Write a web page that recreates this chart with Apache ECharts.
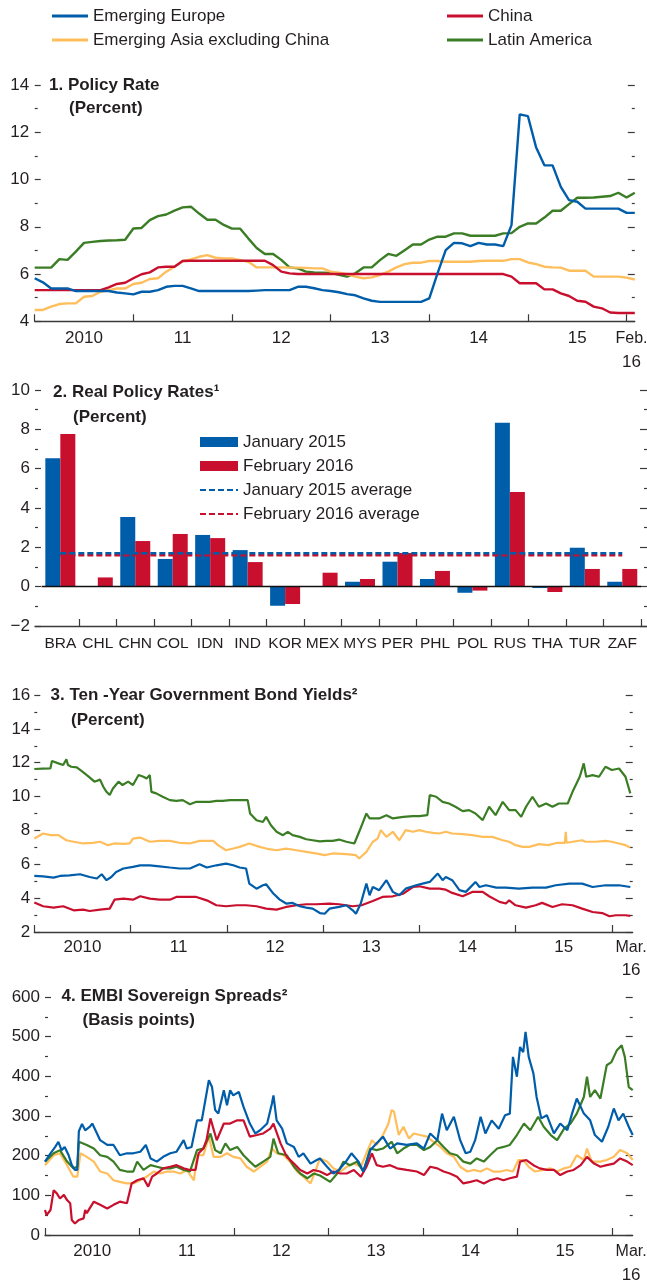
<!DOCTYPE html>
<html>
<head>
<meta charset="utf-8">
<script src="https://cdn.jsdelivr.net/npm/echarts@6/dist/echarts.min.js"></script>
<style>
html,body{margin:0;padding:0;background:#fff;}
#chart{width:647px;height:1285px;}
</style>
</head>
<body>
<div id="chart"></div>
<script>
// ---------- DATA ----------
const seriesNames = ['Emerging Europe', 'China', 'Emerging Asia excluding China', 'Latin America'];

// Panel 1: monthly policy rates, Jan 2010 .. Feb 2016 (index 0 = Jan 2010)
const policyEurope = [5.82,5.65,5.39,5.39,5.39,5.28,5.28,5.28,5.28,5.28,5.22,5.18,5.14,5.25,5.25,5.32,5.46,5.5,5.5,5.39,
  5.28,5.28,5.28,5.28,5.28,5.28,5.28,5.3,5.32,5.32,5.32,5.32,5.46,5.46,5.4,5.32,5.28,5.23,5.15,5.1,
  4.97,4.87,4.82,4.82,4.82,4.82,4.82,4.82,4.97,6.03,7.01,7.32,7.3,7.18,7.32,7.25,7.25,7.18,8.07,12.76,
  12.68,11.35,10.6,10.6,9.69,9.13,9.06,8.77,8.77,8.77,8.77,8.77,8.59,8.59];
const policyChina = [5.32,5.32,5.32,5.32,5.32,5.32,5.32,5.32,5.32,5.44,5.58,5.63,5.82,5.99,6.07,6.28,6.31,6.31,6.55,6.56,
  6.56,6.56,6.56,6.56,6.56,6.56,6.56,6.56,6.56,6.38,6.1,6.03,6.0,6.0,6.0,6.0,6.0,6.0,6.0,6.0,
  6.0,6.0,6.0,6.0,6.0,6.0,6.0,6.0,6.0,6.0,6.0,6.0,6.0,6.0,6.0,6.0,6.0,6.0,5.89,5.61,
  5.61,5.61,5.35,5.35,5.18,5.07,4.87,4.83,4.62,4.55,4.37,4.35,4.35,4.35];
const policyAsia = [4.48,4.48,4.62,4.73,4.76,4.76,5.04,5.07,5.25,5.32,5.39,5.39,5.58,5.63,5.79,5.82,6.1,6.31,6.55,6.62,
  6.73,6.8,6.69,6.66,6.66,6.59,6.52,6.28,6.28,6.28,6.28,6.27,6.27,6.26,6.24,6.24,6.1,6.06,5.99,5.89,
  5.82,5.86,5.96,6.1,6.28,6.42,6.48,6.48,6.55,6.55,6.52,6.52,6.52,6.52,6.55,6.56,6.56,6.56,6.63,6.63,
  6.49,6.42,6.31,6.28,6.27,6.14,6.14,6.14,5.89,5.89,5.89,5.89,5.85,5.77];
const policyLatAm = [6.27,6.27,6.27,6.63,6.6,6.95,7.32,7.36,7.4,7.42,7.43,7.45,7.93,7.95,8.28,8.45,8.52,8.68,8.82,8.85,
  8.56,8.3,8.3,8.08,7.92,7.92,7.5,7.1,6.85,6.85,6.6,6.28,6.24,6.1,6.07,6.06,6.05,5.97,5.89,6.03,
  6.28,6.28,6.59,6.85,6.77,7.01,7.25,7.25,7.46,7.58,7.58,7.72,7.72,7.62,7.62,7.62,7.62,7.72,7.73,8.0,
  8.14,8.14,8.39,8.68,8.68,8.96,9.23,9.23,9.24,9.27,9.3,9.44,9.24,9.44];

// Panel 2: real policy rates
const countries = ['BRA','CHL','CHN','COL','IDN','IND','KOR','MEX','MYS','PER','PHL','POL','RUS','THA','TUR','ZAF'];
const realJan2015 = [6.53,0,3.54,1.41,2.63,1.86,-0.97,0,0.25,1.27,0.39,-0.31,8.34,-0.07,1.98,0.25];
const realFeb2016 = [7.76,0.47,2.32,2.68,2.47,1.25,-0.88,0.71,0.39,1.71,0.8,-0.2,4.81,-0.27,0.9,0.9];
const avgJan2015 = 1.70;
const avgFeb2016 = 1.60;

// Panel 3: ten-year bond yields, [months since Jan 2010, percent]
const bondLatAm = [[0,11.63],[1,11.65],[2,11.66],[2.2,12.1],[3,11.96],[3.6,11.86],[4,12.2],[4.2,11.86],[4.6,11.76],[5.3,11.72],[6,11.47],[6.7,11.21],[7.5,10.88],[8.2,11.0],[8.6,10.58],[9,10.28],[9.4,10.09],[9.8,10.48],[10.5,10.88],[11,10.68],[11.7,10.88],[12.3,10.68],[13,11.27],[13.6,11.17],[14,11.07],[14.4,11.27],[14.6,10.28],[15.2,10.19],[16,9.99],[16.9,9.79],[17.7,9.75],[18.5,9.79],[19.4,9.55],[20.2,9.69],[21,9.69],[21.9,9.69],[22.7,9.75],[23.5,9.75],[24.4,9.79],[25.6,9.79],[26.6,9.79],[26.9,9.0],[27.7,8.6],[28.5,8.5],[28.9,8.8],[29.5,8.31],[30.2,7.92],[31,7.72],[31.6,7.92],[32.2,7.72],[33.1,7.62],[33.9,7.48],[34.7,7.42],[35.6,7.35],[36.4,7.38],[37.2,7.38],[38,7.46],[38.9,7.33],[39.9,7.23],[40.5,7.92],[41.4,9.0],[41.8,8.71],[43,8.71],[43.9,8.9],[44.7,8.71],[46,8.8],[47.2,8.84],[48,8.84],[49,8.9],[49.3,10.09],[50.1,9.99],[50.9,9.69],[51.7,9.59],[52.5,9.4],[53.4,9.14],[54.2,9.2],[55,9.0],[55.9,8.61],[56.7,9.4],[57.5,8.9],[58.4,9.69],[59.2,9.2],[60,9.2],[60.7,8.8],[61.3,9.4],[62.1,9.99],[62.9,9.4],[63.8,9.59],[64.6,9.4],[65.4,9.59],[66.5,9.59],[67.1,10.28],[68,11.17],[68.5,11.96],[68.8,11.17],[69.6,11.27],[70.4,11.17],[71.2,11.76],[72,11.57],[72.9,11.66],[73.7,11.17],[74.3,10.19]];
const bondAsia = [[0,7.52],[1.1,7.82],[2,7.72],[3,7.72],[4,7.42],[4.9,7.33],[6.1,7.23],[7.3,7.27],[8.2,7.33],[9.2,7.13],[10,7.23],[11.1,7.2],[11.9,7.23],[12.3,7.52],[13.2,7.58],[14.4,7.33],[15.6,7.38],[16.9,7.38],[18.1,7.27],[19.4,7.23],[20.6,7.38],[22.3,7.38],[22.9,7.13],[23.9,6.83],[24.8,6.93],[25.6,7.03],[26.8,7.23],[28.1,7.03],[28.9,6.93],[30.2,6.83],[31.4,6.93],[32.7,6.83],[33.9,6.73],[35.1,6.64],[36.2,6.54],[37.2,6.64],[38.9,6.6],[40.1,6.54],[40.5,6.34],[41.4,6.73],[42.2,7.33],[42.8,7.52],[43.2,8.02],[43.9,7.62],[44.7,7.92],[45.5,7.42],[46.3,8.02],[47.2,7.92],[48,8.02],[48.8,7.92],[49.7,7.86],[50.5,7.82],[51.3,7.92],[52.1,7.82],[53.4,7.78],[54.6,7.72],[55.9,7.62],[57.1,7.62],[58.4,7.42],[59.2,7.33],[60,7.13],[60.9,7.03],[61.7,7.03],[62.9,7.19],[64.1,7.13],[65.2,7.27],[66.15,7.27],[66.25,7.92],[66.35,7.27],[67.1,7.33],[68.3,7.42],[68.7,7.33],[70,7.33],[71.2,7.38],[72,7.33],[72.9,7.23],[73.7,7.13],[74.3,6.99]];
const bondEurope = [[0,5.31],[1.1,5.29],[2.4,5.21],[3.2,5.31],[4.4,5.35],[5.7,5.41],[6.9,5.25],[7.8,5.16],[8.4,5.41],[9,5.06],[9.6,5.25],[10.2,5.55],[11.1,5.75],[12.3,5.85],[13.2,5.94],[14.4,5.94],[15.6,5.88],[16.9,5.81],[18.1,5.75],[19.4,5.75],[20.6,6.0],[21.5,5.81],[22.7,5.94],[23.9,6.04],[24.8,5.94],[25.6,5.81],[26.4,5.75],[26.8,4.86],[27.7,4.56],[28.5,4.76],[28.9,4.82],[29.8,4.27],[30.6,3.91],[31.4,3.68],[32.2,3.72],[33.1,3.52],[33.9,3.44],[34.7,3.38],[35.6,3.12],[36.2,3.08],[36.8,3.38],[38,3.48],[38.9,3.58],[39.7,3.28],[40.1,3.08],[40.7,3.68],[41.4,4.86],[41.8,4.17],[42.2,4.66],[43,4.47],[43.9,5.06],[44.7,4.37],[45.5,4.17],[46.3,4.56],[47.6,4.76],[48.4,4.86],[49.3,4.96],[50.3,5.45],[50.9,5.06],[51.3,5.25],[52.1,5.06],[53,4.47],[53.8,4.37],[55,4.96],[55.5,4.66],[56.3,4.76],[57.6,4.62],[58.8,4.62],[60.4,4.56],[62.1,4.62],[63.8,4.62],[65,4.76],[66.7,4.86],[68.3,4.86],[69.6,4.66],[71.2,4.76],[72.9,4.76],[74.3,4.66]];
const bondChina = [[0,3.74],[1.1,3.52],[2.4,3.44],[3.6,3.52],[4.9,3.28],[6.1,3.32],[6.9,3.24],[8.2,3.32],[9.4,3.38],[10,3.91],[11.1,3.97],[12.3,3.91],[13.2,4.11],[14.4,3.97],[15.6,3.91],[16.9,3.91],[17.7,4.07],[19,4.07],[20.2,4.07],[21.5,3.87],[22.7,3.58],[23.9,3.52],[25.2,3.58],[26.4,3.58],[27.7,3.52],[28.9,3.38],[30.2,3.32],[31.4,3.48],[32.7,3.58],[33.9,3.64],[35.1,3.64],[36.8,3.68],[38,3.64],[39.7,3.52],[40.8,3.58],[42.2,3.83],[43.4,4.07],[44.7,4.11],[46,4.27],[47.2,4.66],[48,4.7],[49.3,4.56],[50.5,4.56],[51.3,4.5],[52.1,4.31],[53.4,4.11],[54.6,4.37],[55.9,4.37],[56.7,4.11],[58,3.78],[58.8,3.68],[59.2,3.87],[60,3.58],[61.3,3.44],[62.5,3.58],[63.3,3.72],[64.6,3.48],[65.8,3.64],[67.1,3.58],[68.3,3.38],[69.6,3.18],[70.8,3.12],[71.7,2.93],[72.5,2.99],[73.7,2.99],[74.3,2.95]];

// Panel 4: EMBI spreads, [months since Jan 2010, basis points]
const embiEurope = [[0,185],[0.7,206],[1.3,222],[1.7,235],[2.1,214],[2.5,222],[3,201],[3.4,176],[3.8,164],[4.1,164],[4.3,262],[4.7,280],[5.1,264],[5.7,273],[6,281],[6.6,256],[7,239],[7.9,227],[8.7,227],[9.5,201],[10.4,206],[11.2,206],[12.1,210],[12.8,227],[13.4,193],[14.2,185],[15,197],[15.9,206],[16.7,210],[17.6,239],[18,218],[18.6,222],[19.3,289],[19.9,289],[20.8,390],[21.2,373],[21.6,315],[22,306],[22.7,365],[23.1,327],[23.5,365],[23.9,352],[24.6,361],[25.2,323],[26,281],[26.7,256],[27.3,264],[28.2,281],[28.8,331],[29,352],[29.4,289],[30.1,268],[30.7,231],[31.6,222],[32.2,197],[32.8,206],[33.7,180],[34.5,189],[34.9,193],[35.8,172],[36.6,155],[37.3,164],[38.2,185],[38.9,206],[39.8,185],[40.4,160],[41.3,214],[42.1,231],[42.9,248],[43.8,218],[44.7,231],[45.9,227],[47.2,231],[48.1,218],[48.9,256],[49.8,239],[50.4,306],[51,264],[51.9,298],[52.7,239],[53.4,206],[54,210],[54.6,239],[55.3,298],[55.9,256],[56.7,289],[57.6,268],[58.4,302],[59,306],[59.4,449],[59.9,399],[60.3,474],[60.7,461],[61,512],[61.4,449],[62,407],[62.4,348],[63,294],[63.7,302],[64.6,256],[65.4,281],[66.3,264],[66.9,306],[67.5,344],[68.4,306],[69.2,289],[69.8,252],[70.7,235],[71.5,273],[72.2,319],[72.8,289],[73.4,306],[74.1,273],[74.6,252]];
const embiLatAm = [[0,185],[1.1,206],[1.9,214],[2.8,185],[3.6,168],[4.1,172],[4.3,235],[5.3,227],[6.2,218],[7,201],[7.9,197],[8.7,185],[9.5,164],[10.4,160],[11.2,160],[11.7,185],[12.5,164],[13.4,176],[14.2,172],[15,168],[15.9,168],[16.7,172],[17.6,164],[18.4,160],[19.3,214],[20.1,218],[21,256],[21.6,214],[22.3,206],[22.9,231],[23.5,214],[24.4,222],[25.2,201],[26,185],[26.7,172],[27.7,185],[28.6,197],[29,243],[29.6,206],[30.7,201],[31.6,172],[32.4,155],[33.3,143],[34.1,155],[34.9,150],[36.2,134],[37.1,155],[37.9,185],[38.7,176],[39.6,185],[40.4,160],[41.3,218],[42.1,214],[42.9,218],[44,235],[44.7,206],[45.5,218],[46.3,227],[47.2,227],[48.1,214],[48.9,222],[49.8,239],[50.6,222],[51.4,206],[52.3,201],[53.1,185],[54,180],[54.8,193],[55.7,185],[56.5,201],[57.4,218],[58.2,222],[59,227],[59.9,252],[60.8,281],[61.6,264],[62.6,298],[63.3,273],[64.2,252],[65,239],[65.9,268],[66.7,281],[67.5,306],[68.4,348],[68.8,399],[69.2,348],[69.8,365],[70.5,344],[71.3,428],[71.9,436],[72.6,466],[73.2,478],[73.6,449],[74.1,373],[74.6,365]];
const embiAsia = [[0,176],[1.1,201],[1.9,206],[2.8,176],[3.6,147],[4.1,147],[4.5,206],[5.3,197],[6.2,185],[7,160],[7.9,155],[8.7,138],[9.5,134],[10.4,130],[11.2,130],[12.1,138],[12.9,147],[13.8,160],[14.6,155],[15.5,160],[16.3,160],[17.2,155],[18,164],[18.9,138],[19.3,201],[20.1,201],[20.8,248],[21.4,197],[22.3,197],[23.1,206],[23.9,197],[24.8,193],[25.6,172],[26.5,160],[27.3,172],[28.2,185],[28.8,218],[29.4,206],[30.3,201],[31.1,185],[32,160],[32.8,147],[33.7,130],[34.3,160],[34.9,193],[35.8,185],[36.6,168],[37.5,160],[38.3,172],[39.2,180],[40.1,172],[40.8,206],[41.5,239],[42.1,227],[42.9,252],[43.6,281],[44,315],[44.3,311],[44.9,252],[45.5,273],[46.2,243],[46.8,256],[47.6,252],[48.5,248],[49.3,235],[50.2,222],[51,206],[51.9,197],[52.7,172],[53.6,160],[54.4,164],[55.3,160],[56.1,168],[56.9,160],[57.8,160],[58.6,164],[59.4,160],[60.1,189],[60.7,189],[61.4,172],[62.2,160],[63.3,164],[64.1,168],[65,160],[65.9,168],[66.7,172],[67.5,201],[68.4,189],[68.8,218],[69.4,185],[70.5,185],[71.3,189],[72.2,197],[73,214],[73.9,206],[74.6,189]];
const embiChina = [[0,63],[0.2,50],[0.7,63],[1.1,113],[1.5,105],[1.9,92],[2.4,101],[2.8,88],[3.2,80],[3.4,38],[3.8,29],[4.3,38],[4.9,42],[5.1,63],[5.3,55],[6.2,84],[7,76],[7.9,67],[8.7,76],[9.5,84],[10.4,80],[11,130],[11.7,138],[12.5,143],[13.1,122],[13.6,147],[14.2,155],[15,168],[15.9,172],[16.7,176],[17.6,168],[18.4,164],[19.1,164],[19.5,206],[20.1,218],[20.5,239],[21,294],[21.8,239],[22.7,281],[23.5,281],[24.4,289],[25.2,289],[26,248],[26.9,252],[27.7,256],[28.6,268],[29,281],[29.9,231],[30.7,197],[31.6,180],[32.4,164],[33.3,155],[34.1,164],[34.9,160],[35.8,151],[36.6,160],[37.5,155],[38.3,155],[39.2,164],[40.1,147],[40.8,172],[41.5,206],[42.1,176],[42.9,172],[43.8,176],[44.7,168],[45.9,164],[47.2,160],[48.1,151],[48.9,172],[49.8,168],[50.6,160],[51.4,155],[52.3,147],[53.1,130],[54,134],[54.8,138],[55.7,130],[56.5,138],[57.4,143],[58.2,138],[59,143],[59.9,147],[60.3,185],[61.1,189],[62,176],[62.8,168],[63.7,164],[64.6,164],[65.4,151],[66.3,160],[67.1,164],[68,176],[68.8,197],[69.7,180],[70.5,172],[71.3,176],[72.2,180],[73,193],[73.9,185],[74.6,176]];

// Axis ticks / labels (months since Jan 2010)
const yearTicks = [0,12,24,36,48,60,72];
const yearLabelPos = [6,18,30,42,54,66];
const yearLabels = ['2010','11','12','13','14','15'];
const p1End = 73;    const p1EndLabelPos = 72.6;  const p1EndLabel = ['Feb.', '16'];
const p34End = 74.6; const p34EndLabelPos = 74.4; const p34EndLabel = ['Mar.', '16'];

// ---------- STYLE ----------
const BLUE = '#005DAA', RED = '#C8102E', YELLOW = '#FFBE5C', GREEN = '#3A7D24';
const TXT = '#231F20', AX = '#3a3a3a';
const FONT = '"Liberation Sans", Arial, sans-serif';
const colorOf = {'Emerging Europe': BLUE, 'China': RED, 'Emerging Asia excluding China': YELLOW, 'Latin America': GREEN};

function timeXAxis(gridIndex, max, endPos, endLabel, margin, lh) {
  const pos = yearLabelPos.concat([endPos]);
  const txt = yearLabels.concat(['{e|' + endLabel[0] + '}\n' + endLabel[1]]);
  return {
    type: 'value', gridIndex, min: 0, max,
    axisLine: {show: true, onZero: false, lineStyle: {color: AX, width: 1.3}},
    axisTick: {show: true, inside: true, length: 7, customValues: yearTicks, lineStyle: {color: AX, width: 1.2}},
    axisLabel: {show: true, customValues: pos, margin, lineHeight: lh, fontFamily: FONT, fontSize: 17, color: TXT,
      rich: {e: {fontFamily: FONT, fontSize: 16, lineHeight: lh, color: TXT}},
      formatter: v => { for (let i = 0; i < pos.length; i++) if (Math.abs(pos[i] - v) < 0.01) return txt[i]; return ''; }},
    splitLine: {show: false}
  };
}
function yPair(gridIndex, min, max, interval, margin, fmt) {
  const base = {
    type: 'value', gridIndex, min, max, interval,
    axisLine: {show: false, onZero: false},
    splitLine: {show: false}, minorSplitLine: {show: false},
    minorTick: {show: true, splitNumber: 2, length: 3, lineStyle: {color: AX, width: 1.2}}
  };
  return [
    Object.assign({}, base, {position: 'left',
      axisTick: {show: true, inside: true, length: 6, lineStyle: {color: AX, width: 1.2}},
      axisLabel: {show: true, margin, fontFamily: FONT, fontSize: 17, color: TXT, formatter: fmt}}),
    Object.assign({}, base, {position: 'right',
      axisTick: {show: true, inside: true, length: 7, lineStyle: {color: AX, width: 1.2}},
      axisLabel: {show: false}})
  ];
}
function lineSeries(name, data, xi, yi, width) {
  return {type: 'line', name, data, xAxisIndex: xi, yAxisIndex: yi, symbol: 'none', smooth: false,
    color: colorOf[name], lineStyle: {color: colorOf[name], width}, z: 3};
}
const monthly = arr => arr.map((v, i) => [i, v]);

const y1 = yPair(0, 4, 14, 2, 5.5);
const y2 = yPair(1, -2, 10, 2, 5, v => v < 0 ? '\u2212' + Math.abs(v) : String(v));
const y3 = yPair(3, 2, 16, 2, 4);
const y4 = yPair(4, 0, 600, 100, 5);

const G = {outerBoundsMode: 'none', containLabel: false};
const option = {
  animation: false,
  backgroundColor: '#fff',
  textStyle: {fontFamily: FONT},
  grid: [
    Object.assign({left: 34.7, right: 12.2, top: 85, height: 236.3}, G),
    Object.assign({left: 35, right: 0, top: 390, height: 236}, G),
    Object.assign({left: 41.6, right: 6, top: 390, height: 236}, G),
    Object.assign({left: 34.3, right: 14.3, top: 695, height: 237}, G),
    Object.assign({left: 45, right: 14.3, top: 997, height: 238}, G)
  ],
  xAxis: [
    timeXAxis(0, p1End, p1EndLabelPos, p1EndLabel, 5, 24),
    {type: 'value', gridIndex: 1, min: 0, max: 1, axisLine: {show: true, onZero: false, lineStyle: {color: AX, width: 1.3}},
      axisTick: {show: false}, axisLabel: {show: false}, splitLine: {show: false}},
    {type: 'category', gridIndex: 2, data: countries, axisLine: {show: false, onZero: false},
      axisTick: {show: true, inside: true, length: 7, interval: i => i > 0, lineStyle: {color: AX, width: 1.2}},
      axisLabel: {interval: 0, margin: 8, lineHeight: 20, fontFamily: FONT, fontSize: 15.5, color: TXT},
      splitLine: {show: false}},
    timeXAxis(3, p34End, p34EndLabelPos, p34EndLabel, 4, 23),
    timeXAxis(4, p34End, p34EndLabelPos, p34EndLabel, 4.5, 24)
  ],
  yAxis: [
    y1[0], y1[1],
    y2[0], y2[1],
    {type: 'value', gridIndex: 2, min: -2, max: 10, interval: 2, show: false},
    y3[0], y3[1],
    y4[0], y4[1]
  ],
  legend: [
    {orient: 'vertical', left: 52, top: 7.5, padding: 0, itemWidth: 36, itemHeight: 3, itemGap: 7, icon: 'rect',
      data: ['Emerging Europe', 'Emerging Asia excluding China'],
      textStyle: {fontFamily: FONT, fontSize: 17, color: TXT}, selectedMode: false},
    {orient: 'vertical', left: 447, top: 7.5, padding: 0, itemWidth: 36, itemHeight: 3, itemGap: 7, icon: 'rect',
      data: ['China', 'Latin America'],
      textStyle: {fontFamily: FONT, fontSize: 17, color: TXT}, selectedMode: false},
    {orient: 'vertical', left: 199, top: 433.5, padding: 0, itemWidth: 38, itemHeight: 10, itemGap: 7,
      data: [{name: 'January 2015', icon: 'rect'}, {name: 'February 2016', icon: 'rect'},
             {name: 'January 2015 average', itemStyle: {opacity: 0}},
             {name: 'February 2016 average', itemStyle: {opacity: 0}}],
      textStyle: {fontFamily: FONT, fontSize: 17, color: TXT}, selectedMode: false}
  ],
  graphic: [
    {type: 'text', x: 49, y: 85, style: {text: '1. Policy Rate', font: 'bold 17px ' + FONT, fill: TXT, verticalAlign: 'middle'}},
    {type: 'text', x: 69, y: 108, style: {text: '(Percent)', font: 'bold 17px ' + FONT, fill: TXT, verticalAlign: 'middle'}},
    {type: 'text', x: 53, y: 392.5, style: {text: '2. Real Policy Rates\u00B9', font: 'bold 17px ' + FONT, fill: TXT, verticalAlign: 'middle'}},
    {type: 'text', x: 73, y: 417, style: {text: '(Percent)', font: 'bold 17px ' + FONT, fill: TXT, verticalAlign: 'middle'}},
    {type: 'text', x: 50.5, y: 695.5, style: {text: '3. Ten -Year Government Bond Yields\u00B2', font: 'bold 17px ' + FONT, fill: TXT, verticalAlign: 'middle'}},
    {type: 'text', x: 71, y: 720, style: {text: '(Percent)', font: 'bold 17px ' + FONT, fill: TXT, verticalAlign: 'middle'}},
    {type: 'text', x: 61.5, y: 996, style: {text: '4. EMBI Sovereign Spreads\u00B2', font: 'bold 17px ' + FONT, fill: TXT, verticalAlign: 'middle'}},
    {type: 'text', x: 82.5, y: 1020, style: {text: '(Basis points)', font: 'bold 17px ' + FONT, fill: TXT, verticalAlign: 'middle'}}
  ],
  series: [
    // Panel 1
    lineSeries('Latin America', monthly(policyLatAm), 0, 0, 2.4),
    lineSeries('Emerging Asia excluding China', monthly(policyAsia), 0, 0, 2.4),
    lineSeries('China', monthly(policyChina), 0, 0, 2.4),
    lineSeries('Emerging Europe', monthly(policyEurope), 0, 0, 2.4),
    // Panel 2
    {type: 'bar', name: 'January 2015', data: realJan2015, xAxisIndex: 2, yAxisIndex: 4, barWidth: 15, barGap: '0%',
      itemStyle: {color: BLUE}, color: BLUE,
      markLine: {silent: true, symbol: 'none', label: {show: false}, lineStyle: {color: '#111', width: 1.3, type: 'solid'}, data: [{yAxis: 0}]}},
    {type: 'bar', name: 'February 2016', data: realFeb2016, xAxisIndex: 2, yAxisIndex: 4, barWidth: 15, barGap: '0%',
      itemStyle: {color: RED}, color: RED},
    {type: 'line', name: 'February 2016 average', data: countries.map(() => avgFeb2016), xAxisIndex: 2, yAxisIndex: 4,
      symbol: 'none', color: RED, lineStyle: {color: RED, width: 2.5, type: [6, 3]}, z: 4},
    {type: 'line', name: 'January 2015 average', data: countries.map(() => avgJan2015), xAxisIndex: 2, yAxisIndex: 4,
      symbol: 'none', color: BLUE, lineStyle: {color: BLUE, width: 2.5, type: [6, 3]}, z: 5},
    // Panel 3
    lineSeries('Latin America', bondLatAm, 3, 5, 2.2),
    lineSeries('Emerging Asia excluding China', bondAsia, 3, 5, 2.2),
    lineSeries('China', bondChina, 3, 5, 2.2),
    lineSeries('Emerging Europe', bondEurope, 3, 5, 2.2),
    // Panel 4
    lineSeries('Emerging Asia excluding China', embiAsia, 4, 7, 2.2),
    lineSeries('Latin America', embiLatAm, 4, 7, 2.2),
    lineSeries('China', embiChina, 4, 7, 2.2),
    lineSeries('Emerging Europe', embiEurope, 4, 7, 2.2)
  ]
};

const chart = echarts.init(document.getElementById('chart'), null, {renderer: 'canvas', width: 647, height: 1285});
chart.setOption(option);
</script>
</body>
</html>
